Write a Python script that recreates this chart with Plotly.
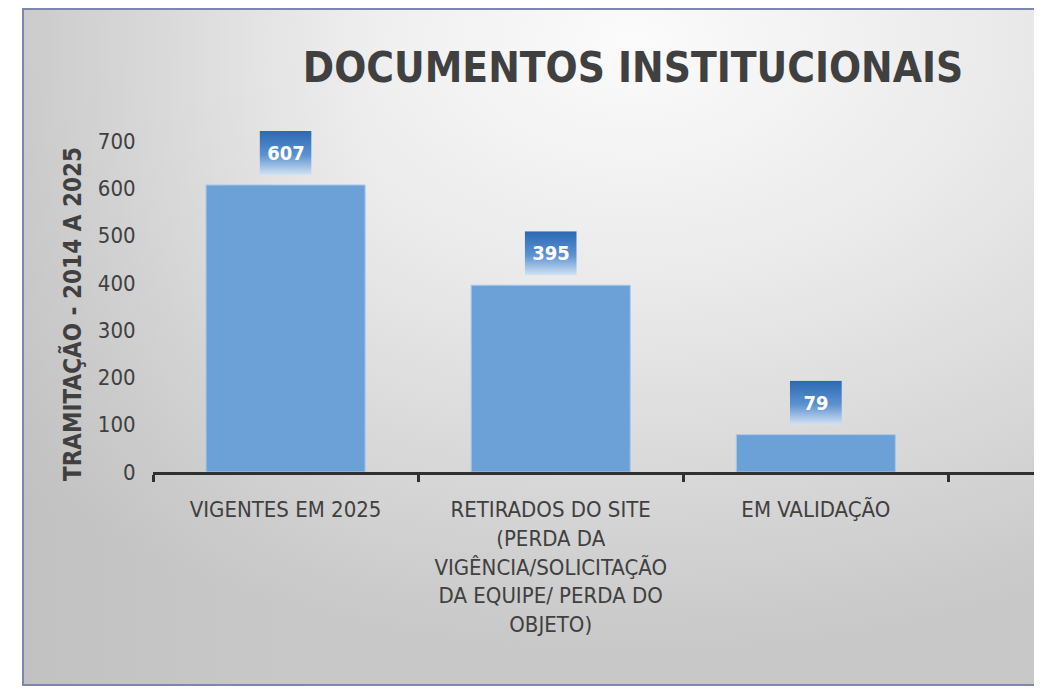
import base64
import plotly.graph_objects as go

# ---- data ----
categories = [
    "VIGENTES EM 2025",
    "RETIRADOS DO SITE<br>(PERDA DA<br>VIGÊNCIA/SOLICITAÇÃO<br>DA EQUIPE/ PERDA DO<br>OBJETO)",
    "EM VALIDAÇÃO",
]
values = [607, 395, 79]
y_ticks = [0, 100, 200, 300, 400, 500, 600, 700]

title_text = "DOCUMENTOS INSTITUCIONAIS"
y_title = "TRAMITAÇÃO - 2014 A 2025"

FONT = "DejaVu Sans Condensed, Liberation Sans Narrow, sans-serif"
TXT = "#404040"

OFF = 8  # page body margin
W, H = 1042 - OFF, 698 - OFF
L, T = 153 - OFF, 141 - OFF
B = H - (472 - OFF)
R = 0
pw, ph = W - L - R, H - T - B
X0, X1 = -0.5, 2.853
Y0, Y1 = 0, 700
px_x = pw / (X1 - X0)   # pixels per category unit


def b64svg(s):
    return "data:image/svg+xml;base64," + base64.b64encode(s.encode()).decode()


# chart-area background (gradient)
bg_svg = """<svg xmlns='http://www.w3.org/2000/svg' width='1020' height='678' viewBox='0 0 1020 678' preserveAspectRatio='none'>
<defs>
<radialGradient id='g' cx='0.6' cy='0.05' r='0.9' fx='0.6' fy='0.05'>
<stop offset='0' stop-color='#fbfbfb'/>
<stop offset='0.4' stop-color='#eaeaea'/>
<stop offset='1' stop-color='#c8c8c8'/>
</radialGradient>
<linearGradient id='h' x1='0' y1='0' x2='1' y2='0'>
<stop offset='0' stop-color='#b8b8b8' stop-opacity='0.45'/>
<stop offset='0.35' stop-color='#c8c8c8' stop-opacity='0'/>
</linearGradient>
</defs>
<rect x='1' y='1' width='1018' height='676' fill='url(#g)'/>
<rect x='1' y='1' width='1018' height='676' fill='url(#h)' stroke='#7d86ad' stroke-width='2'/>
</svg>"""

# data-label box (vertical blue gradient)
lab_svg = """<svg xmlns='http://www.w3.org/2000/svg' width='52' height='44' viewBox='0 0 52 44' preserveAspectRatio='none'>
<defs><linearGradient id='v' x1='0' y1='0' x2='0' y2='1'>
<stop offset='0' stop-color='#2a69b3'/>
<stop offset='0.55' stop-color='#5d92d0'/>
<stop offset='1' stop-color='#d2e3f4'/>
</linearGradient></defs>
<rect width='52' height='44' fill='url(#v)'/>
</svg>"""

fig = go.Figure()
fig.add_trace(go.Bar(
    x=categories, y=values, width=0.6,
    marker=dict(color="#6ca1d7", line=dict(color="#a9c8ea", width=1)),
    hoverinfo="x+y",
))

BOX_W, BOX_H, GAP = 52, 44, 10
for i, (c, v) in enumerate(zip(categories, values)):
    fig.add_layout_image(dict(
        source=b64svg(lab_svg), xref="x", yref="paper",
        x=i, y=(v - Y0) / (Y1 - Y0) + (GAP + BOX_H) / ph,
        sizex=BOX_W / px_x, sizey=BOX_H / ph,
        xanchor="center", yanchor="top", sizing="stretch", layer="above",
    ))
    fig.add_annotation(
        x=c, y=v, xref="x", yref="y", text=f"<b>{v}</b>", showarrow=False,
        yanchor="bottom", yshift=GAP, width=BOX_W - 4, height=BOX_H - 4,
        font=dict(family=FONT, size=20, color="white"),
    )

fig.add_layout_image(dict(
    source=b64svg(bg_svg), xref="paper", yref="paper",
    x=(22 - OFF - L) / pw, y=1 + T / ph,
    sizex=(1042 - 22) / pw, sizey=(686 - OFF) / ph,
    xanchor="left", yanchor="top", sizing="stretch", layer="below",
))

# y-axis title, placed as in the original (slightly below the plot centre)
fig.add_annotation(
    xref="paper", yref="paper", x=(72 - 153) / pw, y=(472 - 314) / ph,
    text=f"<b>{y_title}</b>", textangle=-90, showarrow=False,
    xanchor="center", yanchor="middle",
    font=dict(family=FONT, size=24, color=TXT),
)

fig.update_layout(
    width=W, height=H,
    margin=dict(l=L, r=R, t=T, b=B, autoexpand=False),
    paper_bgcolor="white", plot_bgcolor="rgba(0,0,0,0)",
    showlegend=False,
    title=dict(text=f"<b>{title_text}</b>", xref="container", yref="container",
               x=(633 - OFF) / W, y=1 - (67 - OFF) / H, xanchor="center", yanchor="middle",
               font=dict(family=FONT, size=42, color=TXT)),
    xaxis=dict(
        range=[X0, X1], tickson="boundaries", ticks="outside", ticklen=7,
        tickwidth=3, tickcolor="#303030", showline=True, linecolor="#303030",
        linewidth=3, showgrid=False, zeroline=False, ticklabelstandoff=16,
        tickfont=dict(family=FONT, size=22, color=TXT),
    ),
    yaxis=dict(
        range=[Y0, Y1], tickvals=y_ticks, showgrid=False, zeroline=False,
        showline=False, ticks="outside", ticklen=12, tickcolor="rgba(0,0,0,0)",
        tickfont=dict(family=FONT, size=22, color=TXT),
    ),
)

fig.write_html("out.html")
